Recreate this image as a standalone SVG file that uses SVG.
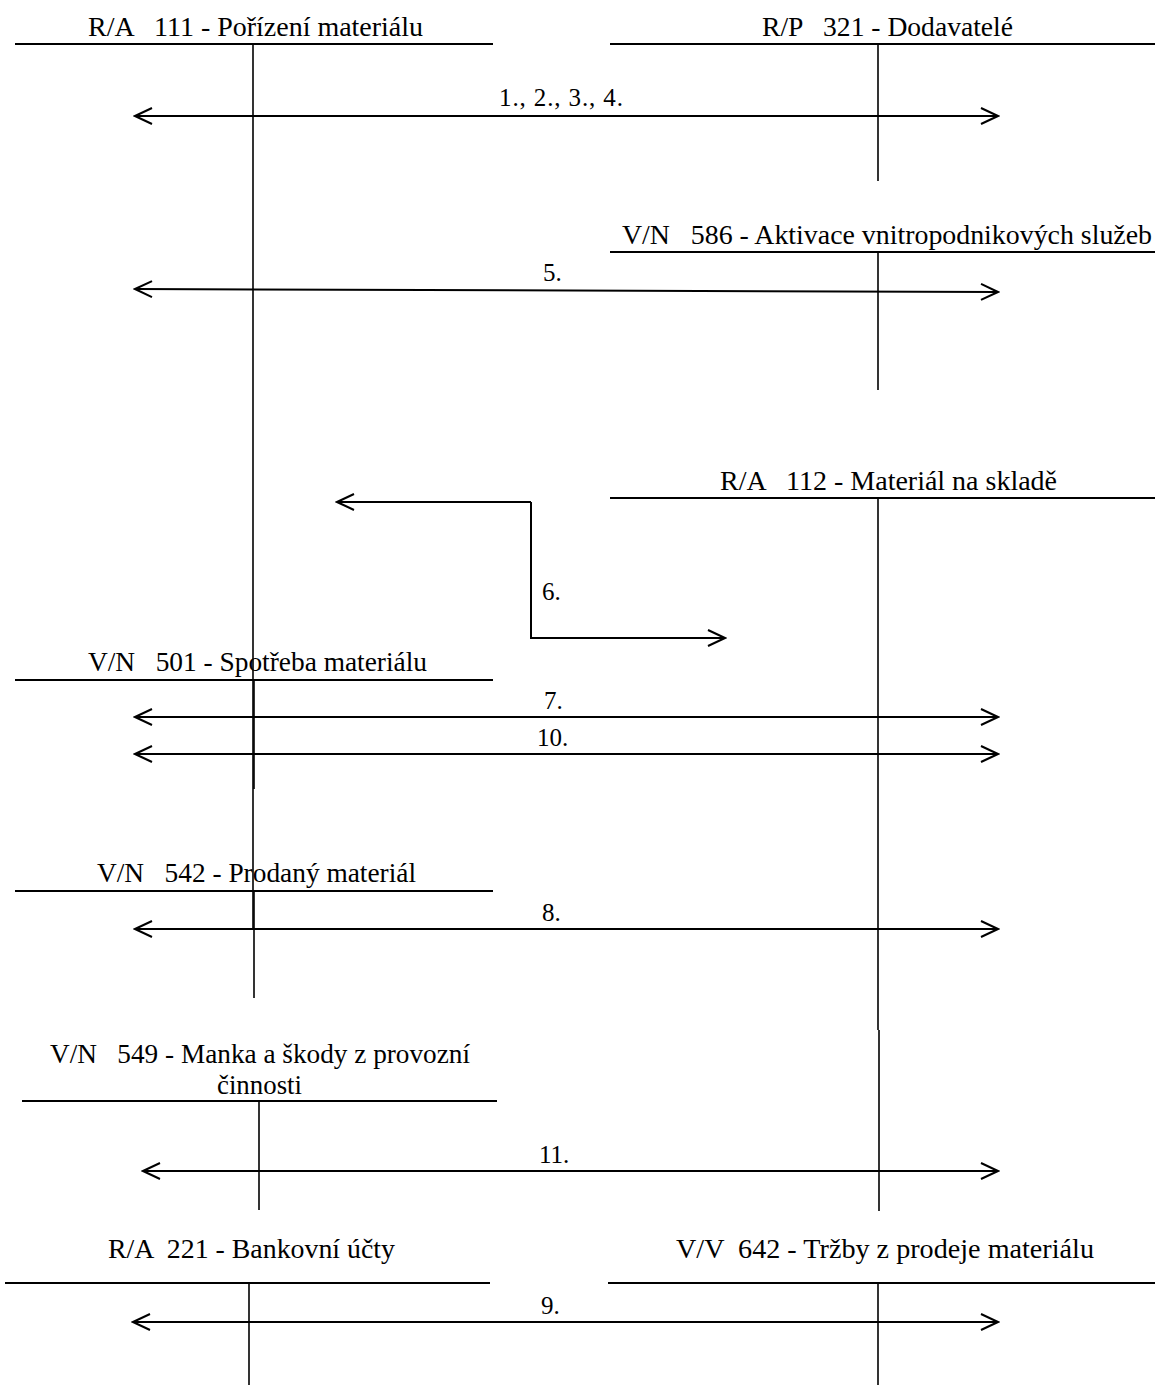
<svg xmlns="http://www.w3.org/2000/svg" width="1155" height="1385" viewBox="0 0 1155 1385">
<style>
text{font-family:"Liberation Serif","Times New Roman",serif;fill:#000}
.t{font-size:27px}
.l{font-size:25px}
.h{stroke:#000;stroke-width:2;fill:none}
.v{stroke:#000;stroke-width:1.6;fill:none}
.a{stroke:#000;stroke-width:2;fill:none;marker-start:url(#ah);marker-end:url(#ah)}
.a1{stroke:#000;stroke-width:2;fill:none;marker-end:url(#ah)}
</style>
<defs>
<marker id="ah" viewBox="0 0 20 20" refX="18" refY="10" markerWidth="20" markerHeight="20" markerUnits="userSpaceOnUse" orient="auto-start-reverse">
<path d="M1,2 L18,10 L1,18" fill="none" stroke="#000" stroke-width="2"/>
</marker>
</defs>
<rect width="1155" height="1385" fill="#fff"/>
<g id="acc111">
<text class="t" x="88" y="36" xml:space="preserve" textLength="335" lengthAdjust="spacingAndGlyphs">R/A   111 - Pořízení materiálu</text>
<line class="h" x1="15" y1="44" x2="493" y2="44"/>
<line class="v" x1="253" y1="45" x2="253" y2="928"/>
</g>
<g id="acc321">
<text class="t" x="762" y="36" xml:space="preserve" textLength="251" lengthAdjust="spacingAndGlyphs">R/P   321 - Dodavatelé</text>
<line class="h" x1="610" y1="44" x2="1155" y2="44"/>
<line class="v" x1="878" y1="45" x2="878" y2="181"/>
</g>
<g id="acc586">
<text class="t" x="622" y="244" xml:space="preserve" textLength="530" lengthAdjust="spacingAndGlyphs">V/N   586 - Aktivace vnitropodnikových služeb</text>
<line class="h" x1="610" y1="252" x2="1155" y2="252"/>
<line class="v" x1="878" y1="253" x2="878" y2="390"/>
</g>
<g id="acc112">
<text class="t" x="720" y="490" xml:space="preserve" textLength="337" lengthAdjust="spacingAndGlyphs">R/A   112 - Materiál na skladě</text>
<line class="h" x1="610" y1="498" x2="1155" y2="498"/>
<line class="v" x1="878" y1="499" x2="878" y2="1030"/>
<line class="v" x1="879" y1="1030" x2="879" y2="1211"/>
</g>
<g id="acc501">
<text class="t" x="88" y="671" xml:space="preserve" textLength="339" lengthAdjust="spacingAndGlyphs">V/N   501 - Spotřeba materiálu</text>
<line class="h" x1="15" y1="680" x2="493" y2="680"/>
<line class="v" x1="254" y1="681" x2="254" y2="789"/>
</g>
<g id="acc542">
<text class="t" x="97" y="882" xml:space="preserve" textLength="319" lengthAdjust="spacingAndGlyphs">V/N   542 - Prodaný materiál</text>
<line class="h" x1="15" y1="891" x2="493" y2="891"/>
<line class="v" x1="254" y1="892" x2="254" y2="998"/>
</g>
<g id="acc549">
<text class="t" x="50" y="1063" xml:space="preserve" textLength="420" lengthAdjust="spacingAndGlyphs">V/N   549 - Manka a škody z provozní</text>
<text class="t" x="217" y="1094" textLength="85" lengthAdjust="spacingAndGlyphs">činnosti</text>
<line class="h" x1="22" y1="1101" x2="497" y2="1101"/>
<line class="v" x1="259" y1="1102" x2="259" y2="1210"/>
</g>
<g id="acc221">
<text class="t" x="108" y="1258" xml:space="preserve" textLength="287" lengthAdjust="spacingAndGlyphs">R/A  221 - Bankovní účty</text>
<line class="h" x1="5" y1="1283" x2="490" y2="1283"/>
<line class="v" x1="249" y1="1284" x2="249" y2="1385"/>
</g>
<g id="acc642">
<text class="t" x="676" y="1258" xml:space="preserve" textLength="418" lengthAdjust="spacingAndGlyphs">V/V  642 - Tržby z prodeje materiálu</text>
<line class="h" x1="608" y1="1283" x2="1155" y2="1283"/>
<line class="v" x1="878" y1="1284" x2="878" y2="1385"/>
</g>
<g id="connectors">
<line class="a" x1="135" y1="116" x2="998" y2="116"/>
<text class="l" x="499" y="106" xml:space="preserve" textLength="124" lengthAdjust="spacing">1., 2., 3., 4.</text>
<line class="a" x1="135" y1="289" x2="998" y2="292"/>
<text class="l" x="543" y="281">5.</text>
<path class="a1" d="M531,502 L531,638 L725,638"/>
<path class="a1" d="M531,502 L337,502"/>
<text class="l" x="542" y="600">6.</text>
<line class="a" x1="135" y1="717" x2="998" y2="717"/>
<text class="l" x="544" y="709">7.</text>
<line class="a" x1="135" y1="754" x2="998" y2="754"/>
<text class="l" x="537" y="746">10.</text>
<line class="a" x1="135" y1="929" x2="998" y2="929"/>
<text class="l" x="542" y="921">8.</text>
<line class="a" x1="143" y1="1171" x2="998" y2="1171"/>
<text class="l" x="539" y="1163">11.</text>
<line class="a" x1="133" y1="1322" x2="998" y2="1322"/>
<text class="l" x="541" y="1314">9.</text>
</g>
</svg>
